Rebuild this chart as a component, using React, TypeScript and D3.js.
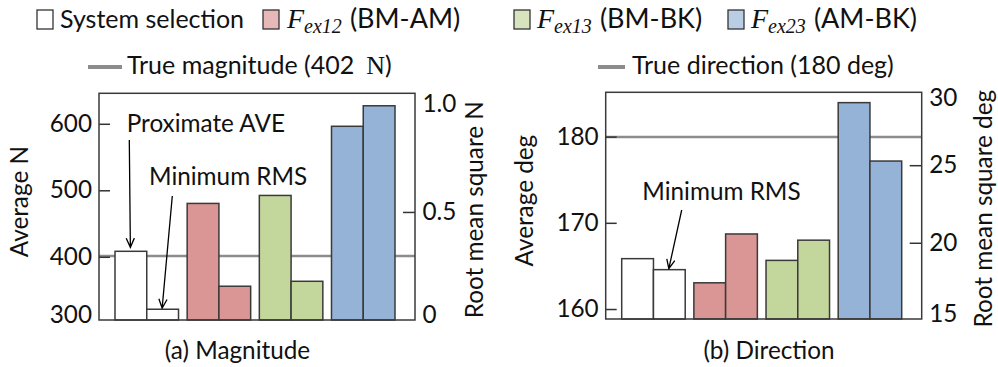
import React from "react";
import { scaleBand, scaleLinear } from "d3";

// categories (legend order) and colours
const groups = ["sys", "ex12", "ex13", "ex23"];
const barFill = ["#ffffff", "#d99694", "#c3d69b", "#95b3d7"];
const legendFill = ["#ffffff", "#e6b9b8", "#d7e4bd", "#b9cde5"];

// (a) magnitude: average (left axis) and RMS (right axis)
const magAve = [409, 481, 493, 597];
const magRms = [0.05, 0.157, 0.18, 0.996];
// (b) direction
const dirAve = [165.9, 163.1, 165.7, 184.0];
const dirRms = [18.3, 20.6, 20.2, 25.3];

const magAveTicks = [300, 400, 500, 600];
const magRmsTicks = [0, 0.5, 1.0];
const dirAveTicks = [160, 170, 180];
const dirRmsTicks = [15, 20, 25, 30];

const trueMag = 402;
const trueDir = 180;

const FONT = "Lato, 'Open Sans', sans-serif";
const FS = 24.3;
const LFS = 25;
const MATH = "'Liberation Serif', 'DejaVu Serif', serif";

function arrowPath(x1, y1, x2, y2) {
  const a = Math.atan2(y2 - y1, x2 - x1);
  const L = 10, w = 0.42;
  const p1 = [x2 - L * Math.cos(a - w), y2 - L * Math.sin(a - w)];
  const p2 = [x2 - L * Math.cos(a + w), y2 - L * Math.sin(a + w)];
  return `M${x1},${y1}L${x2},${y2}M${p1[0]},${p1[1]}L${x2},${y2}L${p2[0]},${p2[1]}`;
}

function Panel(props) {
  const { x0, x1, y0, y1, ave, rms, aveDomain, rmsDomain, aveTicks, rmsTicks, fmtR, trueVal,
    leftTitle, leftTitleX, rightTitle, rightTitleX, caption, captionX, notes } = props;
  const x = scaleBand().domain(groups).range([x0 + 16, x1 - 20]).paddingInner(0.12).paddingOuter(0);
  const sub = scaleBand().domain(["ave", "rms"]).range([0, x.bandwidth()]);
  const yA = scaleLinear().domain(aveDomain).range([y1, y0]);
  const yR = scaleLinear().domain(rmsDomain).range([y1, y0]);
  const labY = (v) => Math.max(y0 + 4, Math.min(y1 - 7, v - 2));
  const inside = (v) => v > y0 + 15 && v < y1 - 2;
  const midY = (y0 + y1) / 2;

  return (
    <g>
      <line x1={x0} x2={x1} y1={yA(trueVal)} y2={yA(trueVal)} stroke="#8c8c8c" strokeWidth={2.5} />
      {aveTicks.filter((t) => inside(yA(t))).map((t) => (
        <line key={"ta" + t} x1={x0} x2={x0 + 11} y1={yA(t)} y2={yA(t)} stroke="#333" strokeWidth={1.5} />
      ))}
      {rmsTicks.filter((t) => inside(yR(t))).map((t) => (
        <line key={"tr" + t} x1={x1 - 12} x2={x1} y1={yR(t)} y2={yR(t)} stroke="#333" strokeWidth={1.5} />
      ))}
      {groups.map((g, i) => (
        <g key={g}>
          <rect x={x(g) + sub("ave")} y={yA(ave[i])} width={sub.bandwidth()} height={y1 - yA(ave[i])}
            fill={barFill[i]} stroke="#3a3a3a" strokeWidth={1.5} />
          <rect x={x(g) + sub("rms")} y={yR(rms[i])} width={sub.bandwidth()} height={y1 - yR(rms[i])}
            fill={barFill[i]} stroke="#3a3a3a" strokeWidth={1.5} />
        </g>
      ))}
      <rect x={x0} y={y0} width={x1 - x0} height={y1 - y0} fill="none" stroke="#3a3a3a" strokeWidth={1.5} />
      {aveTicks.map((t) => (
        <text key={"la" + t} x={x0 - 7} y={labY(yA(t))} textAnchor="end" dominantBaseline="central">{t}</text>
      ))}
      {rmsTicks.map((t) => (
        <text key={"lr" + t} x={x1 + 7.5} y={labY(yR(t))} dominantBaseline="central">{fmtR(t)}</text>
      ))}
      <text transform={`translate(${leftTitleX},${midY - 5}) rotate(-90)`} textAnchor="middle">{leftTitle}</text>
      <text transform={`translate(${rightTitleX},${midY + 3}) rotate(-90)`} textAnchor="middle">{rightTitle}</text>
      <text x={captionX} y={359} textAnchor="middle">{caption}</text>
      {notes.map((n) => {
        const g = groups[n.bar];
        const tipX = x(g) + sub(n.kind) + sub.bandwidth() / 2 - 0.5;
        const tipY = n.kind === "ave" ? yA(ave[n.bar]) - 4 : yR(rms[n.bar]) - 1;
        return (
          <g key={n.text + n.tx}>
            <text x={n.tx} y={n.ty}>{n.text}</text>
            <path d={arrowPath(n.ax, n.ay, tipX, tipY)} fill="none" stroke="#000" strokeWidth={1.3} />
          </g>
        );
      })}
    </g>
  );
}

function LegendBox({ x, tx, fill, label, sub, tail }) {
  return (
    <g>
      <rect x={x} y={10} width={16} height={19} fill={fill} stroke="#333" strokeWidth={1.3} />
      <text x={tx} y={28} fontSize={LFS}>
        {sub ? (
          <>
            <tspan fontFamily={MATH} fontStyle="italic" fontSize={28}>{label}</tspan>
            <tspan fontFamily={MATH} fontStyle="italic" fontSize={20} dy={5}>{sub}</tspan>
            <tspan dy={-5} dx={8} fontSize={27}>{tail}</tspan>
          </>
        ) : label}
      </text>
    </g>
  );
}

export default function App() {
  return (
    <svg width={998} height={367} style={{ position: "absolute", left: 0, top: 0, background: "#fff" }}
      fontFamily={FONT} fontSize={FS} fill="#111">
      <LegendBox x={37} tx={60} fill={legendFill[0]} label="System selection" />
      <LegendBox x={263} tx={287} fill={legendFill[1]} label="F" sub="ex12" tail="(BM-AM)" />
      <LegendBox x={514} tx={537} fill={legendFill[2]} label="F" sub="ex13" tail="(BM-BK)" />
      <LegendBox x={728} tx={751} fill={legendFill[3]} label="F" sub="ex23" tail="(AM-BK)" />

      <line x1={88} x2={122} y1={67} y2={67} stroke="#8c8c8c" strokeWidth={4} />
      <text x={127} y={74} fontSize={LFS}>True magnitude (402<tspan fontFamily={MATH} fontSize={26} dx={12}>N</tspan>)</text>
      <line x1={598} x2={625} y1={67} y2={67} stroke="#8c8c8c" strokeWidth={4} />
      <text x={632} y={74} fontSize={LFS}>True direction (180 deg)</text>

      <Panel x0={99} x1={415} y0={93.3} y1={320}
        ave={magAve} rms={magRms} aveDomain={[305.7, 646.6]} rmsDomain={[0, 1.054]}
        aveTicks={magAveTicks} rmsTicks={magRmsTicks}
        fmtR={(v) => (v === 0 ? "0" : v.toFixed(1))} trueVal={trueMag}
        leftTitle="Average N" leftTitleX={28.4} rightTitle="Root mean square N" rightTitleX={483.4}
        caption="(a) Magnitude" captionX={237.5}
        notes={[
          { text: "Proximate AVE", tx: 126.7, ty: 132.3, ax: 129.3, ay: 140, bar: 0, kind: "ave" },
          { text: "Minimum RMS", tx: 149, ty: 185, ax: 172.3, ay: 196, bar: 0, kind: "rms" },
        ]} />

      <Panel x0={605.7} x1={921.7} y0={92.3} y1={319}
        ave={dirAve} rms={dirRms} aveDomain={[158.9, 185.2]} rmsDomain={[15.12, 29.73]}
        aveTicks={dirAveTicks} rmsTicks={dirRmsTicks}
        fmtR={(v) => String(v)} trueVal={trueDir}
        leftTitle="Average deg" leftTitleX={533.4} rightTitle="Root mean square deg" rightTitleX={991.7}
        caption="(b) Direction" captionX={769}
        notes={[
          { text: "Minimum RMS", tx: 642.3, ty: 199.5, ax: 681.7, ay: 210, bar: 0, kind: "rms" },
        ]} />
    </svg>
  );
}
